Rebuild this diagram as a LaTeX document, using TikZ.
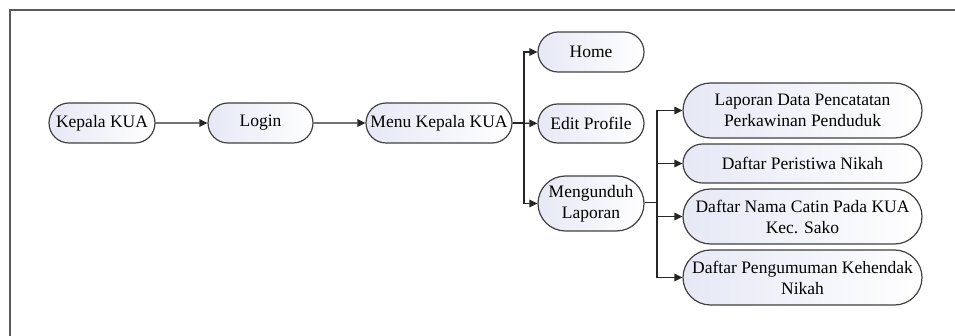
\documentclass[tikz,border=0pt]{standalone}
\usepackage{fontspec}
\setmainfont{Liberation Serif}
\newfontfamily\boxfont{Liberation Serif}
\usetikzlibrary{shapes.misc,arrows.meta}
\definecolor{edgegray}{HTML}{404040}
\definecolor{framegray}{HTML}{5A5A5A}
\definecolor{tint}{HTML}{E6E8F5}
\tikzset{
  menubox/.style={rounded rectangle, draw=edgegray, line width=1.2pt,
    left color=tint, right color=white,
    inner sep=0pt, align=center,
    font=\boxfont\fontsize{17.5pt}{21pt}\selectfont},
  link/.style={draw=black!85, line width=1.3pt,
    -{Triangle[length=8pt,width=7.5pt]}},
}
\begin{document}
\begin{tikzpicture}[x=1pt,y=-1pt]
\useasboundingbox (0,0) rectangle (955,336);
\begin{scope}
  \clip (0,0) rectangle (955,336);
  \draw[framegray, line width=2pt] (9.5,340) -- (9.5,10) -- (960,10);
\end{scope}

% main chain
\node[menubox, minimum width=106pt, minimum height=40pt] (kua)   at (102,123) {Kepala KUA};
\node[menubox, minimum width=105pt, minimum height=40pt] (login) at (260.5,123) {Login};
\node[menubox, minimum width=146pt, minimum height=40pt] (menu)  at (439,123) {Menu Kepala KUA};

% first level
\node[menubox, minimum width=106pt, minimum height=40pt] (home) at (591,52) {Home};
\node[menubox, minimum width=106pt, minimum height=39pt] (edit) at (591,123.5) {Edit Profile};
\node[menubox, minimum width=106pt, minimum height=55pt] (unduh) at (591,203.5) {Mengunduh\\Laporan};

% reports
\node[menubox, minimum width=239pt, minimum height=55pt] (lap)  at (802.5,110.5) {Laporan Data Pencatatan\\Perkawinan Penduduk};
\node[menubox, minimum width=239pt, minimum height=39pt] (pers) at (802.5,163.5) {Daftar Peristiwa Nikah};
\node[menubox, minimum width=239pt, minimum height=55pt] (nama) at (802.5,216.5) {Daftar Nama Catin Pada KUA\\Kec. Sako};
\node[menubox, minimum width=239pt, minimum height=55pt] (umum) at (802.5,277.5) {Daftar Pengumuman Kehendak\\Nikah};

\coordinate (jmenu)  at (524,123);
\coordinate (junduh) at (657,202.5);

\draw[link] (kua) -- (login);
\draw[link] (login) -- (menu);

\draw[link] (menu) -- (edit);
\draw[link] (menu.east) -- (jmenu) |- (home);
\draw[link] (menu.east) -- (jmenu) |- (unduh);

\draw[link] (unduh.east |- junduh) -- (junduh) |- (lap);
\draw[link] (unduh.east |- junduh) -- (junduh) |- (pers);
\draw[link] (unduh.east |- junduh) -- (junduh) |- (nama);
\draw[link] (unduh.east |- junduh) -- (junduh) |- (umum);
\end{tikzpicture}
\end{document}
